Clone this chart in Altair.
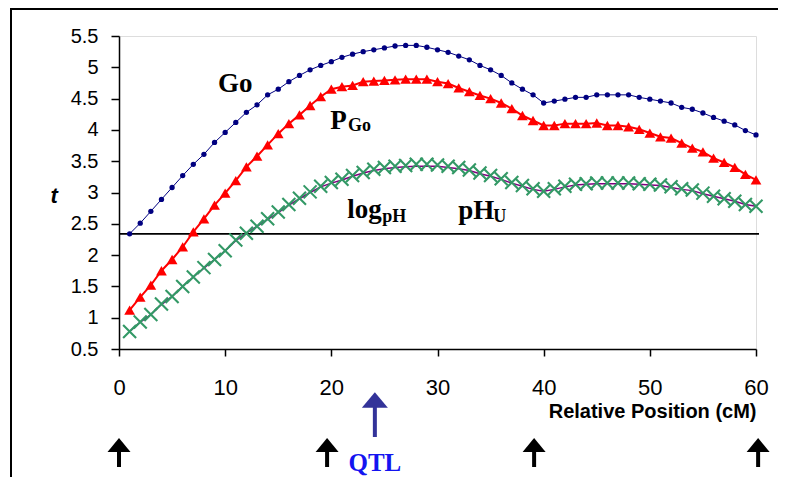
import altair as alt
import pandas as pd

# ---------------- data ----------------
pos = list(range(1, 61))
go = [2.34, 2.51, 2.70, 2.89, 3.08, 3.27, 3.45, 3.61, 3.80, 3.96,
      4.12, 4.28, 4.40, 4.56, 4.65, 4.77, 4.87, 4.96, 5.03, 5.09,
      5.16, 5.21, 5.25, 5.28, 5.31, 5.34, 5.35, 5.35, 5.32, 5.28,
      5.24, 5.18, 5.12, 5.03, 4.96, 4.87, 4.75, 4.65, 4.56, 4.43,
      4.46, 4.49, 4.52, 4.52, 4.56, 4.56, 4.56, 4.56, 4.52, 4.49,
      4.46, 4.43, 4.36, 4.33, 4.27, 4.20, 4.14, 4.08, 3.99, 3.92]
pgo = [1.12, 1.33, 1.52, 1.75, 1.93, 2.13, 2.37, 2.58, 2.80, 2.99,
       3.19, 3.41, 3.58, 3.76, 3.94, 4.10, 4.24, 4.39, 4.53, 4.65,
       4.69, 4.71, 4.77, 4.78, 4.79, 4.80, 4.81, 4.81, 4.81, 4.77,
       4.74, 4.67, 4.61, 4.55, 4.50, 4.43, 4.34, 4.23, 4.15, 4.07,
       4.07, 4.10, 4.10, 4.10, 4.11, 4.07, 4.07, 4.05, 4.01, 3.95,
       3.89, 3.87, 3.79, 3.71, 3.65, 3.55, 3.48, 3.40, 3.29, 3.20]
phu = [0.78, 0.93, 1.05, 1.22, 1.34, 1.50, 1.65, 1.80, 1.93, 2.07,
       2.24, 2.35, 2.46, 2.58, 2.69, 2.81, 2.91, 3.01, 3.10, 3.16,
       3.21, 3.27, 3.32, 3.37, 3.40, 3.42, 3.43, 3.45, 3.45, 3.44,
       3.42, 3.40, 3.36, 3.31, 3.27, 3.22, 3.16, 3.11, 3.06, 3.02,
       3.06, 3.10, 3.13, 3.14, 3.15, 3.15, 3.15, 3.15, 3.14, 3.13,
       3.12, 3.09, 3.06, 3.04, 2.99, 2.94, 2.90, 2.86, 2.81, 2.78]
logph = [0.78, 0.93, 1.05, 1.21, 1.34, 1.50, 1.65, 1.79, 1.93, 2.07,
         2.23, 2.35, 2.46, 2.57, 2.68, 2.80, 2.90, 3.00, 3.09, 3.15,
         3.20, 3.26, 3.31, 3.35, 3.38, 3.40, 3.41, 3.42, 3.42, 3.42,
         3.40, 3.38, 3.35, 3.30, 3.26, 3.21, 3.15, 3.10, 3.05, 3.02,
         3.05, 3.09, 3.12, 3.13, 3.14, 3.14, 3.14, 3.14, 3.13, 3.12,
         3.11, 3.08, 3.05, 3.03, 2.98, 2.94, 2.90, 2.86, 2.81, 2.78]
threshold = [2.34]
x_ticks = [0, 10, 20, 30, 40, 50, 60]
y_ticks = [0.5, 1, 1.5, 2, 2.5, 3, 3.5, 4, 4.5, 5, 5.5]
marker_pos = [0, 19.6, 39.1, 60.2]
qtl_pos = [24.1]

main_text = ["Go", "P", "log", "pH"]
main_x = [9.33, 19.9, 21.49, 31.95]
main_t = [4.60, 4.02, 2.59, 2.573]
sub_text = ["Go", "pH", "U"]
sub_x = [21.58, 24.79, 35.25]
sub_t = [3.977, 2.525, 2.525]

# ---------------- tables ----------------
df = pd.DataFrame({"pos": pos, "go": go, "pgo": pgo, "phu": phu, "logph": logph})
df_thr = pd.DataFrame({"t": threshold})
df_mark = pd.DataFrame({"pos": marker_pos})
df_qtl = pd.DataFrame({"pos": qtl_pos, "label": ["QTL"]})
df_main = pd.DataFrame({"x": main_x, "t": main_t, "text": main_text})
df_sub = pd.DataFrame({"x": sub_x, "t": sub_t, "text": sub_text})
df_one = pd.DataFrame({"a": [0]})

SANS = "Liberation Sans"
SERIF = "Liberation Serif"

xs = alt.Scale(domain=[0, 60], nice=False, zero=False)
ys = alt.Scale(domain=[0.5, 5.5], nice=False, zero=False)

xaxis = alt.Axis(values=x_ticks, format="d", title="Relative Position (cM)",
                 titleX=637, titleY=68, titleAlign="right", titleBaseline="alphabetic",
                 titleFont=SANS, titleFontSize=20, titleFontWeight="bold", titleColor="black",
                 labelFont=SANS, labelFontSize=22, labelColor="black", labelPadding=21,
                 labelFlush=False, labelOverlap=False,
                 tickSize=7, tickColor="black", tickWidth=1.5,
                 domainColor="black", domainWidth=1.5, grid=False)
yaxis = alt.Axis(values=y_ticks, format="~g", title="t", titleAngle=0,
                 titleX=-69, titleY=166, titleAlign="left", titleBaseline="alphabetic",
                 titleFont=SANS, titleFontSize=22, titleFontWeight="bold",
                 titleFontStyle="italic", titleColor="black",
                 labelFont=SANS, labelFontSize=20, labelColor="black", labelPadding=13,
                 labelOverlap=False,
                 tickSize=8, tickColor="black", tickWidth=1.5,
                 domainColor="black", domainWidth=1.5, grid=False)


def X(field):
    return alt.X(f"{field}:Q", scale=xs, axis=xaxis)


def Y(field):
    return alt.Y(f"{field}:Q", scale=ys, axis=yaxis)


thr = alt.Chart(df_thr).mark_rule(color="black", strokeWidth=1.8).encode(
    y=Y("t"), x=alt.value(0), x2=alt.value(640))

go_line = alt.Chart(df).mark_line(color="#000080", strokeWidth=1).encode(x=X("pos"), y=Y("go"))
go_pts = alt.Chart(df).mark_point(shape="circle", filled=True, size=28, color="#000080",
                                  opacity=1).encode(x=X("pos"), y=Y("go"))
pgo_line = alt.Chart(df).mark_line(color="#ff0000", strokeWidth=2).encode(x=X("pos"), y=Y("pgo"))
pgo_pts = alt.Chart(df).mark_point(shape="triangle-up", filled=True, size=115, color="#ff0000",
                                   opacity=1).encode(x=X("pos"), y=Y("pgo"))
logph_line = alt.Chart(df).mark_line(color="#800080", strokeWidth=1.5).encode(
    x=X("pos"), y=Y("logph"))
phu_pts = alt.Chart(df).mark_point(shape="M-1,-1L1,1M-1,1L1,-1", filled=False, size=169,
                                   color="#339966", strokeWidth=2.1, opacity=1).encode(
    x=X("pos"), y=Y("phu"))

main_lbl = alt.Chart(df_main).mark_text(font=SERIF, fontSize=27, fontWeight="bold",
                                        align="left", baseline="alphabetic",
                                        color="black").encode(
    x=X("x"), y=Y("t"), text="text:N")
sub_lbl = alt.Chart(df_sub).mark_text(font=SERIF, fontSize=18, fontWeight="bold",
                                      align="left", baseline="alphabetic",
                                      color="black").encode(
    x=X("x"), y=Y("t"), text="text:N")

HEAD = "M0,-0.6L1,0.6L-1,0.6Z"
mark_head = alt.Chart(df_mark).mark_point(shape=HEAD, filled=True, size=529, color="black",
                                          opacity=1).encode(x=X("pos"), y=alt.value(409))
mark_shaft = alt.Chart(df_mark).mark_rule(color="black", strokeWidth=4).encode(
    x=X("pos"), y=alt.value(414), y2=alt.value(431))

qtl_head = alt.Chart(df_qtl).mark_point(shape=HEAD, filled=True, size=676, color="#333399",
                                        opacity=1).encode(x=X("pos"), y=alt.value(364))
qtl_shaft = alt.Chart(df_qtl).mark_rule(color="#333399", strokeWidth=4).encode(
    x=X("pos"), y=alt.value(370), y2=alt.value(401))
qtl_text = alt.Chart(df_qtl).mark_text(font=SERIF, fontSize=25, fontWeight="bold",
                                       align="center", baseline="alphabetic",
                                       color="#1414f0").encode(
    x=X("pos"), y=alt.value(435), text="label:N")

frame_top = alt.Chart(df_one).mark_rule(color="black", strokeWidth=2).encode(
    x=alt.value(-109), x2=alt.value(660), y=alt.value(-27))
frame_left = alt.Chart(df_one).mark_rule(color="black", strokeWidth=2).encode(
    x=alt.value(-108), y=alt.value(-28), y2=alt.value(442))

chart = alt.layer(
    thr, go_line, go_pts, pgo_line, pgo_pts, logph_line, phu_pts,
    main_lbl, sub_lbl, mark_head, mark_shaft, qtl_head, qtl_shaft, qtl_text,
    frame_top, frame_left
).properties(
    width=637, height=313,
    autosize=alt.AutoSizeParams(type="none"),
    padding={"left": 111, "top": 28, "right": 22, "bottom": 128},
).configure_view(
    stroke="#999999", strokeWidth=2
).configure(background="white")

chart.save("out.html", embed_options={"renderer": "svg", "actions": False})
